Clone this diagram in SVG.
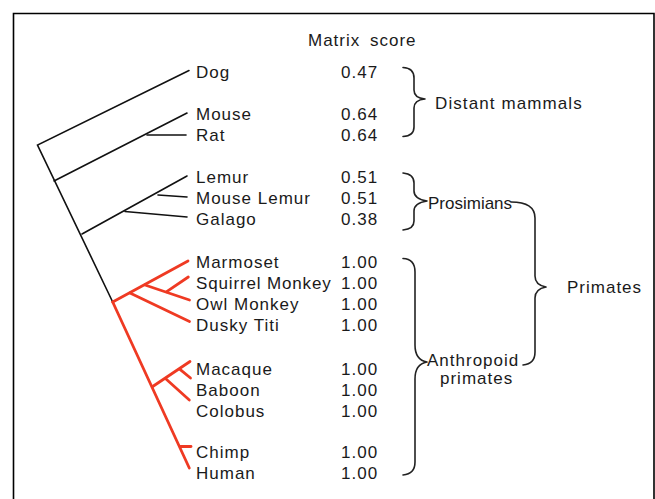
<svg xmlns="http://www.w3.org/2000/svg" width="655" height="499" viewBox="0 0 655 499">
<style>
text{font-family:"Liberation Sans",Arial,sans-serif;font-size:17px;fill:#1a1a1a;letter-spacing:1px}
.k{stroke:#111;stroke-width:1.6;fill:none;stroke-linecap:round}
.r{stroke:#ef3a23;stroke-width:2.8;fill:none;stroke-linecap:round}
.b{stroke:#222;stroke-width:1.6;fill:none;stroke-linecap:round;stroke-linejoin:round}
</style>
<rect width="655" height="499" fill="#fff"/>
<path d="M13.5,499 V13.5 H654 V499" fill="none" stroke="#000" stroke-width="1.6"/>
<text x="308" y="46" style="word-spacing:4px">Matrix score</text>
<g id="connectors">
<path class="k" d="M112.7,302 L37.5,145 L189,70.5"/>
<path class="k" d="M54,181 L187,113"/>
<path class="k" d="M147,135 L186,135"/>
<path class="k" d="M82,234 L187,176"/>
<path class="k" d="M158,195 L187,197"/>
<path class="k" d="M125,211.5 L187,217"/>
<path class="r" d="M112.7,302 L189.3,468"/>
<path class="r" d="M112.7,302 L188,261"/>
<path class="r" d="M130,293 L189.5,321.5"/>
<path class="r" d="M145,285 L189.5,300"/>
<path class="r" d="M166.7,291.7 L188.3,277"/>
<path class="r" d="M152.7,386.5 L190,361.5"/>
<path class="r" d="M166,379 L189.3,400"/>
<path class="r" d="M180,369.3 L190.5,378"/>
<path class="r" d="M180.5,446.5 L191,446.5"/>
</g>
<g id="n-dog"><text x="196" y="78">Dog</text><text x="341" y="78">0.47</text></g>
<g id="n-mouse"><text x="196" y="120">Mouse</text><text x="341" y="120">0.64</text></g>
<g id="n-rat"><text x="196" y="141">Rat</text><text x="341" y="141">0.64</text></g>
<g id="n-lemur"><text x="196" y="183">Lemur</text><text x="341" y="183">0.51</text></g>
<g id="n-mouselemur"><text x="196" y="204">Mouse  Lemur</text><text x="341" y="204">0.51</text></g>
<g id="n-galago"><text x="196" y="225">Galago</text><text x="341" y="225">0.38</text></g>
<g id="n-marmoset"><text x="196" y="268">Marmoset</text><text x="341" y="268">1.00</text></g>
<g id="n-squirrel"><text x="196" y="289" style="letter-spacing:0.85px">Squirrel Monkey</text><text x="341" y="289">1.00</text></g>
<g id="n-owl"><text x="196" y="310">Owl Monkey</text><text x="341" y="310">1.00</text></g>
<g id="n-dusky"><text x="196" y="331">Dusky Titi</text><text x="341" y="331">1.00</text></g>
<g id="n-macaque"><text x="196" y="375">Macaque</text><text x="341" y="375">1.00</text></g>
<g id="n-baboon"><text x="196" y="396">Baboon</text><text x="341" y="396">1.00</text></g>
<g id="n-colobus"><text x="196" y="417">Colobus</text><text x="341" y="417">1.00</text></g>
<g id="n-chimp"><text x="196" y="458">Chimp</text><text x="341" y="458">1.00</text></g>
<g id="n-human"><text x="196" y="479">Human</text><text x="341" y="479">1.00</text></g>
<g id="g-distant">
<path class="b" d="M403,67.5 Q414,68 414,78 V90 Q414,98 425,99 Q414,100 414,108 V127 Q414,136 403,136.5"/>
<text x="435" y="109" style="letter-spacing:1.1px">Distant mammals</text>
</g>
<g id="g-prosimians">
<path class="b" d="M403,173 Q414,174 414,183 V191 Q414,199 427,201 Q414,203 414,211 V221 Q414,229 403,230"/>
<text x="428" y="209" style="letter-spacing:0">Prosimians</text>
</g>
<g id="g-primates">
<path class="b" d="M511,202 Q535,202 535,218 V276 Q535,285 546,287 Q535,289 535,298 V352 Q535,364 523,365"/>
<text x="567" y="293">Primates</text>
</g>
<g id="g-anthropoid">
<path class="b" d="M403,258.5 Q415,259 415,272 V345 Q415,360 427,362 Q415,364 415,379 V462 Q415,474 403,475"/>
<text x="427" y="366">Anthropoid</text>
<text x="440" y="384">primates</text>
</g>
</svg>
